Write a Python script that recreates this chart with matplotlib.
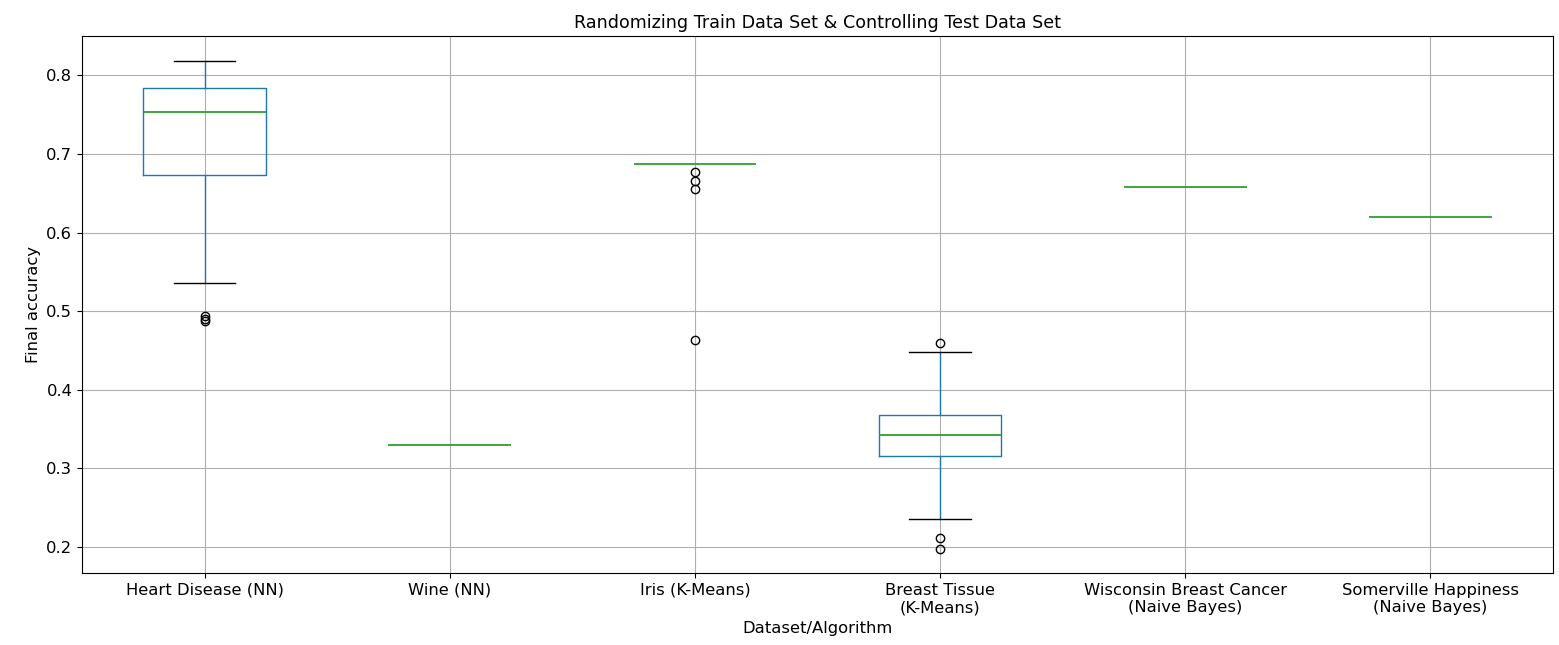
import matplotlib
matplotlib.use("Agg")
import matplotlib.pyplot as plt

plt.rcParams["font.size"] = 11.8

# dataset/algorithm labels
labels = ["Heart Disease (NN)", "Wine (NN)", "Iris (K-Means)",
          "Breast Tissue\n(K-Means)", "Wisconsin Breast Cancer\n(Naive Bayes)",
          "Somerville Happiness\n(Naive Bayes)"]

# box statistics
medians = [0.754, 0.330, 0.687, 0.343, 0.658, 0.620]
q1s = [0.673, 0.330, 0.687, 0.316, 0.658, 0.620]
q3s = [0.784, 0.330, 0.687, 0.368, 0.658, 0.620]
whis_lo = [0.536, 0.330, 0.687, 0.236, 0.658, 0.620]
whis_hi = [0.819, 0.330, 0.687, 0.448, 0.658, 0.620]
fliers = [[0.494, 0.490, 0.487],
          [],
          [0.677, 0.666, 0.655, 0.464],
          [0.460, 0.211, 0.198],
          [],
          []]

stats = []
for i in range(len(labels)):
    stats.append({"label": labels[i], "med": medians[i], "q1": q1s[i], "q3": q3s[i],
                  "whislo": whis_lo[i], "whishi": whis_hi[i], "fliers": fliers[i]})

fig, ax = plt.subplots(figsize=(15.59, 6.45), dpi=100)
fig.subplots_adjust(left=0.0526, right=0.9962, top=0.944, bottom=0.1116)

bp = ax.bxp(stats, widths=0.5,
            boxprops=dict(color="#1f77b4", zorder=2),
            whiskerprops=dict(color="#1f77b4", zorder=2),
            medianprops=dict(color="#2ca02c", zorder=4, linewidth=1.3),
            capprops=dict(color="black", zorder=2),
            flierprops=dict(marker="o", markeredgecolor="black", markerfacecolor="none", zorder=3))

# collapsed boxes (all values equal) only show the median line
for i in range(len(labels)):
    if q1s[i] == q3s[i]:
        bp["boxes"][i].set_visible(False)
        bp["caps"][2 * i].set_visible(False)
        bp["caps"][2 * i + 1].set_visible(False)

ax.grid(True)
ax.set_title("Randomizing Train Data Set & Controlling Test Data Set", fontsize=12.6)
ax.set_xlabel("Dataset/Algorithm")
ax.set_ylabel("Final accuracy")

fig.savefig("out.png", dpi=100)
